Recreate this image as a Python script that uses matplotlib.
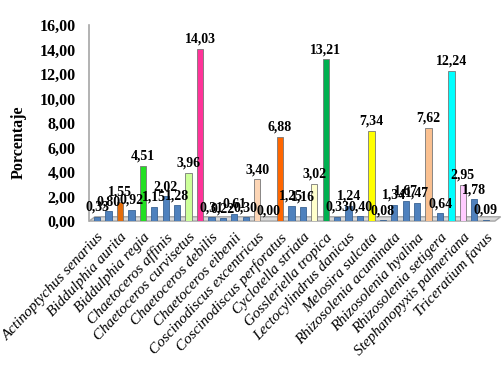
import matplotlib
matplotlib.use("Agg")
import matplotlib.pyplot as plt
from matplotlib.patches import Polygon
import numpy as np

values = [0.33, 0.80, 1.55, 0.92, 4.51, 1.15, 2.02, 1.28, 3.96, 14.03,
          0.31, 0.22, 0.61, 0.30, 3.40, 0.00, 6.88, 1.25, 1.16, 3.02,
          13.21, 0.33, 1.24, 0.40, 7.34, 0.08, 1.34, 1.67, 1.47, 7.62,
          0.64, 12.24, 2.95, 1.78, 0.09]
colors = ["#4F81BD", "#4F81BD", "#E46C0A", "#4F81BD", "#22E022", "#4F81BD",
          "#4F81BD", "#4F81BD", "#CCFF99", "#FF3399", "#4F81BD", "#4F81BD",
          "#4F81BD", "#4F81BD", "#FCD5B5", "#4F81BD", "#FF6600", "#4F81BD",
          "#4F81BD", "#FFFFCC", "#00B050", "#4F81BD", "#4F81BD", "#4F81BD",
          "#FFFF00", "#4F81BD", "#4F81BD", "#4F81BD", "#4F81BD", "#FAC090",
          "#4F81BD", "#00FFFF", "#FFCCFF", "#4F81BD", "#4F81BD"]
tick_labels = ["Actinoptychus senarius", "Biddulphia aurita", "Biddulphia regia",
               "Chaetoceros affinis", "Chaetoceros curvisetus", "Chaetoceros debilis",
               "Chaetoceros eibenii", "Coscinodiscus excentricus",
               "Coscinodiscus perforatus", "Cyclotella striata", "Gossleriella tropica",
               "Lectocylindrus danicus", "Melosira sulcata", "Rhizosolenia acuminata",
               "Rhizosolenia hyalina", "Rhizosolenia setigera",
               "Stephanopyxis palmeriana", "Triceratium favus"]
y_ticks = [0, 2, 4, 6, 8, 10, 12, 14, 16]

serif = ["Liberation Serif", "DejaVu Serif"]

fig = plt.figure(figsize=(5.04, 3.66), dpi=100)
ax = fig.add_axes([0.177, 0.396, 0.805, 0.536])

x = np.arange(1, len(values) + 1)
edge = []
for c in colors:
    edge.append("#3A6394" if c == "#4F81BD" else "#777777")
ax.bar(x, values, width=0.55, color=colors, edgecolor=edge, linewidth=0.6, zorder=3)

for xi, v in zip(x, values):
    ax.text(xi, v + 0.25, f"{v:.2f}".replace(".", ","), ha="center", va="bottom",
            fontsize=10, fontweight="bold", family=serif, zorder=4)

ax.set_xlim(0.3, 35.8)
ax.set_ylim(0, 16)
ax.set_yticks(y_ticks)
ax.set_yticklabels([f"{t:.2f}".replace(".", ",") for t in y_ticks],
                   fontsize=11.5, fontweight="bold", family=serif)
ax.set_xticks(x[::2])
ax.set_xticklabels(tick_labels, rotation=47, ha="right", rotation_mode="anchor",
                   fontsize=11, style="italic", family=serif)
ax.tick_params(axis="y", length=0, pad=10)
ax.tick_params(axis="x", length=0, pad=7)
ax.set_ylabel("Porcentaje", fontsize=11.5, fontweight="bold", family=serif)
ax.yaxis.set_label_coords(-0.155, 0.40)

for s in ["top", "right", "bottom"]:
    ax.spines[s].set_visible(False)
ax.spines["left"].set_color("#A6A6A6")
ax.spines["left"].set_linewidth(1.2)

# floor
floor = Polygon([(0.3, 0), (35.8, 0), (36.3, 0.35), (0.8, 0.35)], closed=True,
                facecolor="#D9D9D9", edgecolor="#A6A6A6", linewidth=1.0,
                zorder=2, clip_on=False)
ax.add_patch(floor)

fig.savefig("out.png", dpi=100)
